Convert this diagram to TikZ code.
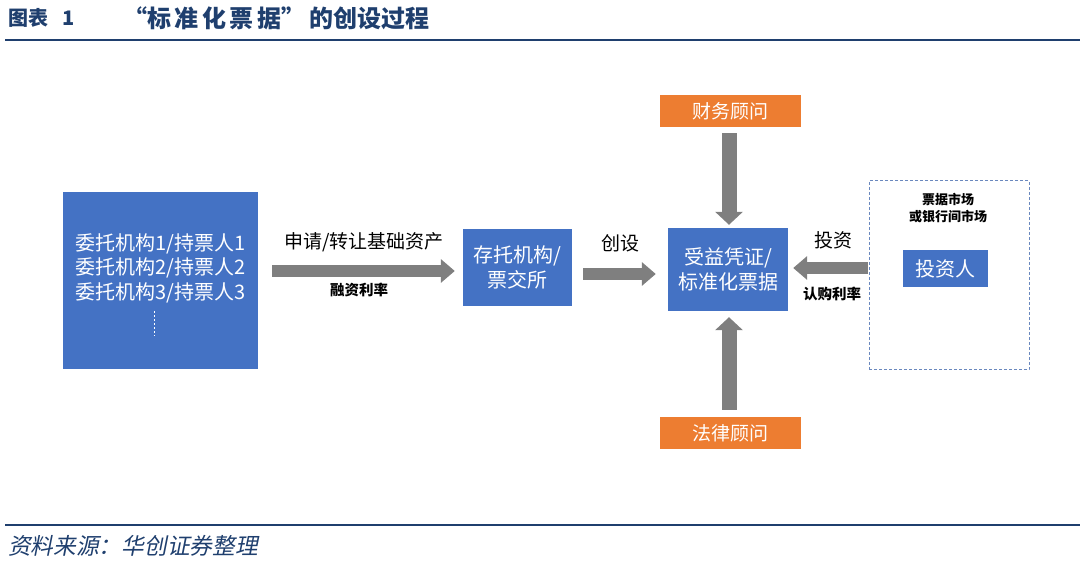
\documentclass[tikz,border=0pt]{standalone}
\usepackage{fontspec}
\setmainfont{Noto Sans CJK SC}
\newfontfamily\slantcjk{Noto Sans CJK SC}[FakeSlant=0.2]
\usetikzlibrary{arrows.meta}
\definecolor{boxblue}{HTML}{4472C4}
\definecolor{advorange}{HTML}{ED7D31}
\definecolor{arrowgray}{HTML}{7F7F7F}
\definecolor{titleblue}{HTML}{1F3F6E}
\definecolor{dashblue}{HTML}{6A88BE}
\tikzset{
  bluebox/.style={fill=boxblue,inner sep=0pt,text=white,align=center,font=\fontsize{20}{24.5}\selectfont},
  orangebox/.style={fill=advorange,inner sep=0pt,text=white,align=center,minimum width=141pt,minimum height=32pt,font=\fontsize{19}{22}\selectfont},
  harrow/.style={draw=arrowgray,line width=12pt,-{Triangle[width=23pt,length=14pt]}},
  varrow/.style={draw=arrowgray,line width=15pt,-{Triangle[width=27pt,length=13pt]}},
  biglabel/.style={inner sep=0pt,font=\fontsize{19}{22}\selectfont},
  smalllabel/.style={inner sep=0pt,font=\fontsize{14.5}{17}\selectfont\bfseries},
}
\newcommand\tsp{\hspace{3.5pt}}
\begin{document}
\begin{tikzpicture}[x=1pt,y=1pt]
\useasboundingbox (0,0) rectangle (1080,567);
% title and rules
\node[anchor=west,inner sep=0pt,text=titleblue,font=\fontsize{20}{24}\selectfont\bfseries] (title1) at (8,549) {图表\hspace{14pt}1};
\node[anchor=west,inner sep=0pt,text=titleblue,font=\fontsize{24}{26}\selectfont\bfseries] (title2) at (122,549) {\makebox[25pt][r]{“}标\tsp 准\tsp 化\tsp 票\tsp 据\makebox[28pt][l]{”}的创设过程};
\draw[titleblue,line width=2pt] (5,527) -- (1080,527);
\draw[titleblue,line width=2pt] (5,42) -- (1080,42);
\node[anchor=west,inner sep=0pt,text=titleblue,font=\fontsize{22.7}{24}\selectfont\slantcjk] (foot) at (8,21) {资料来源：华创证券整理};
% boxes
\node[bluebox,minimum width=195pt,minimum height=177pt] (L) at (160.5,286.5) {};
\node[inner sep=0pt,text=white,align=center,font=\fontsize{20}{24.5}\selectfont] (Lt) at (160.5,299) {委托机构1/持票人1\\委托机构2/持票人2\\委托机构3/持票人3};
\draw[white,line width=1.6pt,dash pattern=on 1.6pt off 2.4pt] ([xshift=-6pt,yshift=-31pt]L.center) -- ([xshift=-6pt,yshift=-56pt]L.center);
\node[bluebox,minimum width=109pt,minimum height=77pt] (S) at (517.5,299.5) {存托机构/\\票交所};
\node[bluebox,minimum width=120pt,minimum height=83pt] (C) at (728,297.5) {受益凭证/\\标准化票据};
\node[orangebox] (T) at (730.5,456) {财务顾问};
\node[orangebox] (B) at (730.5,134) {法律顾问};
\node[draw=dashblue,line width=1pt,dash pattern=on 3pt off 2pt,minimum width=160pt,minimum height=189pt,inner sep=0pt] (D) at (949,291.5) {};
\node[inner sep=0pt,align=center,font=\fontsize{13}{16.5}\selectfont\bfseries] (M) at (948,359) {票据市场\\或银行间市场};
\node[bluebox,minimum width=85pt,minimum height=37pt] (I) at (945.5,298.5) {投资人};
% arrows
\draw[harrow,shorten <=14pt,shorten >=8pt] (L.east |- 0,296) -- (S.west |- 0,296);
\draw[harrow,shorten <=11pt,shorten >=12pt] (S.east |- 0,293) -- (C.west |- 0,293);
\draw[harrow,shorten <=1pt,shorten >=5pt] (D.west |- 0,299) -- (C.east |- 0,299);
\draw[varrow,shorten <=6pt,shorten >=3pt] (T.south -| 729,0) -- (C.north -| 729,0);
\draw[varrow,shorten <=7pt,shorten >=6pt] (B.north -| 729,0) -- (C.south -| 729,0);
% labels
\node[biglabel] (l1) at (364,325) {申请/转让基础资产};
\node[smalllabel] (l2) at (359,277) {融资利率};
\node[biglabel] (l3) at (620,324) {创设};
\node[biglabel] (l4) at (833,327) {投资};
\node[smalllabel] (l5) at (832,273) {认购利率};
\end{tikzpicture}
\end{document}
